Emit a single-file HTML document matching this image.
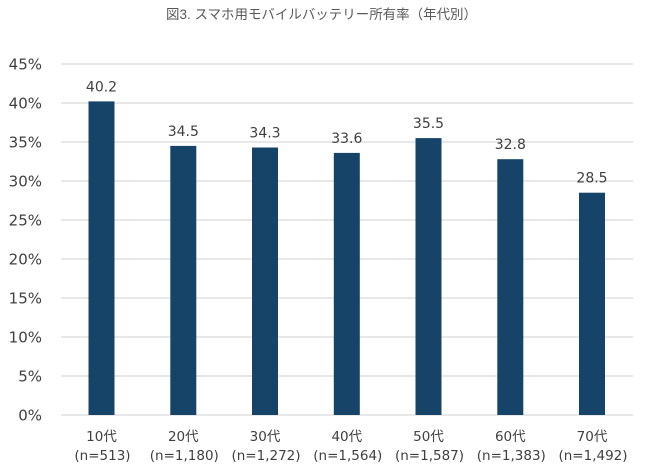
<!DOCTYPE html>
<html><head><meta charset="utf-8"><style>
html,body{margin:0;padding:0;background:#fff;}
svg{display:block;}
</style></head><body>
<svg width="645" height="469" viewBox="0 0 645 469" xmlns="http://www.w3.org/2000/svg">
<rect width="645" height="469" fill="#fff"/>
<text x="321.5" y="19" text-anchor="middle" font-family="'Liberation Sans','Noto Sans CJK JP',sans-serif" font-size="13.5" fill="#595959" textLength="311" lengthAdjust="spacingAndGlyphs">図3. スマホ用モバイルバッテリー所有率（年代別）</text>
<g stroke="#d9d9d9" stroke-width="1.2">
<line x1="61" y1="64" x2="633" y2="64"/>
<line x1="61" y1="103" x2="633" y2="103"/>
<line x1="61" y1="142" x2="633" y2="142"/>
<line x1="61" y1="181" x2="633" y2="181"/>
<line x1="61" y1="220" x2="633" y2="220"/>
<line x1="61" y1="259" x2="633" y2="259"/>
<line x1="61" y1="298" x2="633" y2="298"/>
<line x1="61" y1="337" x2="633" y2="337"/>
<line x1="61" y1="376" x2="633" y2="376"/>
<line x1="61" y1="415" x2="633" y2="415"/>
</g>
<g font-family="'DejaVu Sans',sans-serif" font-size="15" fill="#404040" text-anchor="end">
<text x="42" y="69.5">45%</text>
<text x="42" y="108.5">40%</text>
<text x="42" y="147.5">35%</text>
<text x="42" y="186.5">30%</text>
<text x="42" y="225.5">25%</text>
<text x="42" y="264.5">20%</text>
<text x="42" y="303.5">15%</text>
<text x="42" y="342.5">10%</text>
<text x="42" y="381.5">5%</text>
<text x="42" y="420.5">0%</text>
</g>
<g fill="#164468">
<rect x="88.5" y="101.4" width="26" height="313.6"/>
<rect x="170.3" y="145.9" width="26" height="269.1"/>
<rect x="252" y="147.5" width="26" height="267.5"/>
<rect x="333.8" y="152.9" width="26" height="262.1"/>
<rect x="415.5" y="138.1" width="26" height="276.9"/>
<rect x="497.3" y="159.2" width="26" height="255.8"/>
<rect x="579" y="192.7" width="26" height="222.3"/>
</g>
<g font-family="'DejaVu Sans',sans-serif" font-size="14" fill="#404040" text-anchor="middle">
<text x="101.5" y="91.4">40.2</text>
<text x="183.3" y="135.9">34.5</text>
<text x="265" y="137.5">34.3</text>
<text x="346.8" y="142.9">33.6</text>
<text x="428.5" y="128.1">35.5</text>
<text x="510.3" y="149.2">32.8</text>
<text x="592" y="182.7">28.5</text>
</g>
<g font-family="'DejaVu Sans','Noto Sans CJK JP',sans-serif" font-size="13.5" fill="#404040" text-anchor="middle">
<text x="101.5" y="441">10代</text>
<text x="183.3" y="441">20代</text>
<text x="265" y="441">30代</text>
<text x="346.8" y="441">40代</text>
<text x="428.5" y="441">50代</text>
<text x="510.3" y="441">60代</text>
<text x="592" y="441">70代</text>
<text x="102.5" y="460">(n=513)</text>
<text x="184.3" y="460">(n=1,180)</text>
<text x="266" y="460">(n=1,272)</text>
<text x="347.8" y="460">(n=1,564)</text>
<text x="429.5" y="460">(n=1,587)</text>
<text x="511.3" y="460">(n=1,383)</text>
<text x="593" y="460">(n=1,492)</text>
</g>
</svg>
</body></html>
